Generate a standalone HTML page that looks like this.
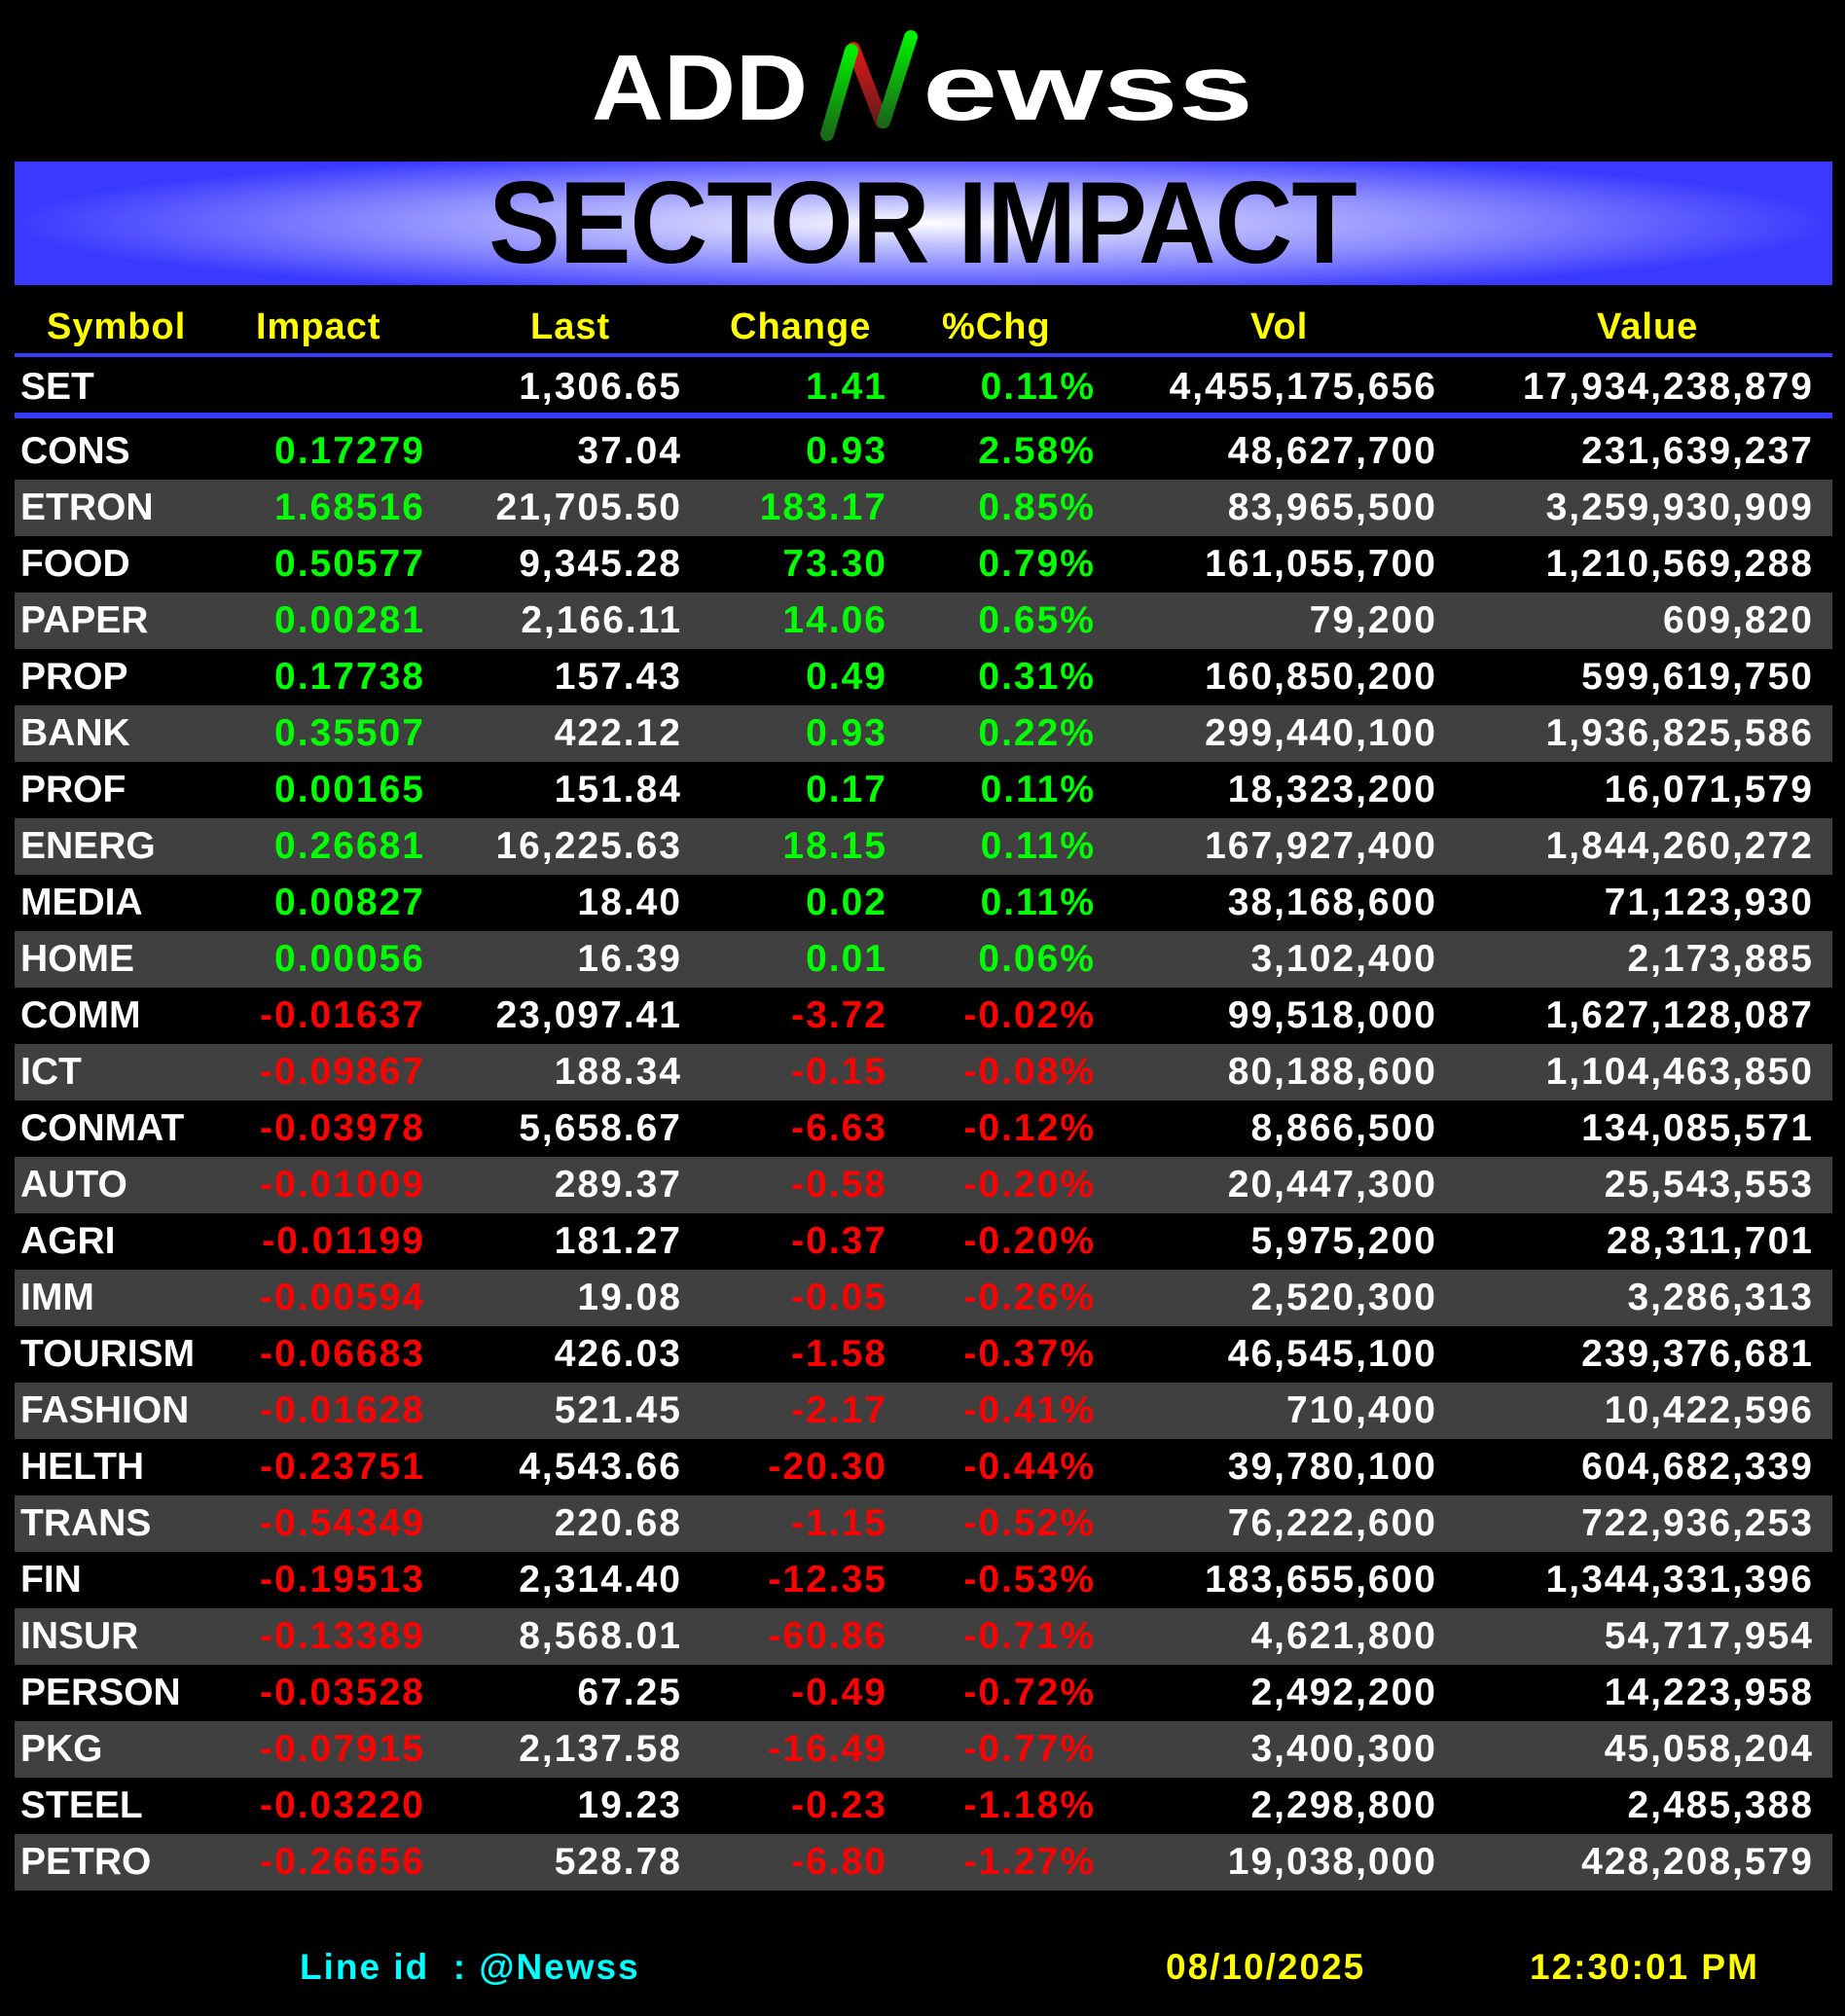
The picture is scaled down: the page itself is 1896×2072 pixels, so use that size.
<!DOCTYPE html>
<html><head><meta charset="utf-8"><style>
html,body{margin:0;padding:0;background:#000;}
body{width:1896px;height:2072px;position:relative;overflow:hidden;font-family:"Liberation Sans",sans-serif;font-weight:bold;}
.banner{position:absolute;left:15px;top:166px;width:1868px;height:127px;background:radial-gradient(ellipse 50% 60% at 50% 50%,#ffffff 0%,#c8c8ff 25%,#8a8aff 60%,#3a3aff 100%);}
.title{position:absolute;left:0;width:1896px;top:166px;height:127px;line-height:127px;text-align:center;font-size:120px;color:#000;transform:scaleX(0.92);letter-spacing:-1px;}
.hdr span,.row span{position:absolute;white-space:nowrap;}
.hdr{position:absolute;left:0;top:310px;width:1896px;height:52px;line-height:52px;color:#ffff00;font-size:38px;letter-spacing:1px;}
.line{position:absolute;left:15px;width:1868px;background:#3a3aff;}
.row{position:absolute;left:0;width:1896px;height:58px;line-height:58px;font-size:39px;color:#fff;letter-spacing:2px;}
.g{background:linear-gradient(to right,#000 0,#000 15px,#404040 15px,#404040 1883px,#000 1883px);}
.c1{left:21px;letter-spacing:0}.c2{right:1459px}.c3{right:1195px}.c4{right:984px}.c5{right:770px}.c6{right:419px}.c7{right:32px}
.p{color:#00ff00}.n{color:#ff0000}
.foot{position:absolute;top:1996px;height:52px;line-height:52px;font-size:37px;letter-spacing:2px;}
</style></head><body>
<svg style="position:absolute;left:0;top:0" width="1896" height="160">
<defs><linearGradient id="gr" x1="0" y1="0" x2="0" y2="1"><stop offset="0" stop-color="#00ee00"/><stop offset="1" stop-color="#1a6a1a"/></linearGradient>
<linearGradient id="rd" x1="0" y1="0" x2="0" y2="1"><stop offset="0" stop-color="#dd1a1a"/><stop offset="1" stop-color="#6a1a1a"/></linearGradient></defs>
<text x="608" y="123" font-family="Liberation Sans" font-weight="bold" font-size="96" fill="#fff" textLength="222" lengthAdjust="spacingAndGlyphs">ADD</text>
<text x="948" y="123" font-family="Liberation Sans" font-weight="bold" font-size="96" fill="#fff" textLength="340" lengthAdjust="spacingAndGlyphs">ewss</text>
<line x1="877" y1="50" x2="906" y2="125" stroke="url(#rd)" stroke-width="14" stroke-linecap="round"/>
<line x1="875" y1="52" x2="850" y2="138" stroke="url(#gr)" stroke-width="14" stroke-linecap="round"/>
<line x1="936" y1="38" x2="908" y2="125" stroke="url(#gr)" stroke-width="14" stroke-linecap="round"/>
</svg>
<div class="banner"></div>
<div class="title">SECTOR IMPACT</div>
<div class="hdr"><span style="left:48px">Symbol</span><span style="left:263px">Impact</span><span style="left:545px">Last</span><span style="left:750px">Change</span><span style="left:968px">%Chg</span><span style="left:1285px">Vol</span><span style="left:1641px">Value</span></div>
<div class="line" style="top:363px;height:4px"></div>
<div class="row" style="top:369px"><span class="c1">SET</span><span class="c3">1,306.65</span><span class="c4 p">1.41</span><span class="c5 p">0.11%</span><span class="c6">4,455,175,656</span><span class="c7">17,934,238,879</span></div>
<div class="line" style="top:424px;height:6px"></div>
<div class="row" style="top:435px"><span class="c1">CONS</span><span class="c2 p">0.17279</span><span class="c3">37.04</span><span class="c4 p">0.93</span><span class="c5 p">2.58%</span><span class="c6">48,627,700</span><span class="c7">231,639,237</span></div>
<div class="row g" style="top:493px"><span class="c1">ETRON</span><span class="c2 p">1.68516</span><span class="c3">21,705.50</span><span class="c4 p">183.17</span><span class="c5 p">0.85%</span><span class="c6">83,965,500</span><span class="c7">3,259,930,909</span></div>
<div class="row" style="top:551px"><span class="c1">FOOD</span><span class="c2 p">0.50577</span><span class="c3">9,345.28</span><span class="c4 p">73.30</span><span class="c5 p">0.79%</span><span class="c6">161,055,700</span><span class="c7">1,210,569,288</span></div>
<div class="row g" style="top:609px"><span class="c1">PAPER</span><span class="c2 p">0.00281</span><span class="c3">2,166.11</span><span class="c4 p">14.06</span><span class="c5 p">0.65%</span><span class="c6">79,200</span><span class="c7">609,820</span></div>
<div class="row" style="top:667px"><span class="c1">PROP</span><span class="c2 p">0.17738</span><span class="c3">157.43</span><span class="c4 p">0.49</span><span class="c5 p">0.31%</span><span class="c6">160,850,200</span><span class="c7">599,619,750</span></div>
<div class="row g" style="top:725px"><span class="c1">BANK</span><span class="c2 p">0.35507</span><span class="c3">422.12</span><span class="c4 p">0.93</span><span class="c5 p">0.22%</span><span class="c6">299,440,100</span><span class="c7">1,936,825,586</span></div>
<div class="row" style="top:783px"><span class="c1">PROF</span><span class="c2 p">0.00165</span><span class="c3">151.84</span><span class="c4 p">0.17</span><span class="c5 p">0.11%</span><span class="c6">18,323,200</span><span class="c7">16,071,579</span></div>
<div class="row g" style="top:841px"><span class="c1">ENERG</span><span class="c2 p">0.26681</span><span class="c3">16,225.63</span><span class="c4 p">18.15</span><span class="c5 p">0.11%</span><span class="c6">167,927,400</span><span class="c7">1,844,260,272</span></div>
<div class="row" style="top:899px"><span class="c1">MEDIA</span><span class="c2 p">0.00827</span><span class="c3">18.40</span><span class="c4 p">0.02</span><span class="c5 p">0.11%</span><span class="c6">38,168,600</span><span class="c7">71,123,930</span></div>
<div class="row g" style="top:957px"><span class="c1">HOME</span><span class="c2 p">0.00056</span><span class="c3">16.39</span><span class="c4 p">0.01</span><span class="c5 p">0.06%</span><span class="c6">3,102,400</span><span class="c7">2,173,885</span></div>
<div class="row" style="top:1015px"><span class="c1">COMM</span><span class="c2 n">-0.01637</span><span class="c3">23,097.41</span><span class="c4 n">-3.72</span><span class="c5 n">-0.02%</span><span class="c6">99,518,000</span><span class="c7">1,627,128,087</span></div>
<div class="row g" style="top:1073px"><span class="c1">ICT</span><span class="c2 n">-0.09867</span><span class="c3">188.34</span><span class="c4 n">-0.15</span><span class="c5 n">-0.08%</span><span class="c6">80,188,600</span><span class="c7">1,104,463,850</span></div>
<div class="row" style="top:1131px"><span class="c1">CONMAT</span><span class="c2 n">-0.03978</span><span class="c3">5,658.67</span><span class="c4 n">-6.63</span><span class="c5 n">-0.12%</span><span class="c6">8,866,500</span><span class="c7">134,085,571</span></div>
<div class="row g" style="top:1189px"><span class="c1">AUTO</span><span class="c2 n">-0.01009</span><span class="c3">289.37</span><span class="c4 n">-0.58</span><span class="c5 n">-0.20%</span><span class="c6">20,447,300</span><span class="c7">25,543,553</span></div>
<div class="row" style="top:1247px"><span class="c1">AGRI</span><span class="c2 n">-0.01199</span><span class="c3">181.27</span><span class="c4 n">-0.37</span><span class="c5 n">-0.20%</span><span class="c6">5,975,200</span><span class="c7">28,311,701</span></div>
<div class="row g" style="top:1305px"><span class="c1">IMM</span><span class="c2 n">-0.00594</span><span class="c3">19.08</span><span class="c4 n">-0.05</span><span class="c5 n">-0.26%</span><span class="c6">2,520,300</span><span class="c7">3,286,313</span></div>
<div class="row" style="top:1363px"><span class="c1">TOURISM</span><span class="c2 n">-0.06683</span><span class="c3">426.03</span><span class="c4 n">-1.58</span><span class="c5 n">-0.37%</span><span class="c6">46,545,100</span><span class="c7">239,376,681</span></div>
<div class="row g" style="top:1421px"><span class="c1">FASHION</span><span class="c2 n">-0.01628</span><span class="c3">521.45</span><span class="c4 n">-2.17</span><span class="c5 n">-0.41%</span><span class="c6">710,400</span><span class="c7">10,422,596</span></div>
<div class="row" style="top:1479px"><span class="c1">HELTH</span><span class="c2 n">-0.23751</span><span class="c3">4,543.66</span><span class="c4 n">-20.30</span><span class="c5 n">-0.44%</span><span class="c6">39,780,100</span><span class="c7">604,682,339</span></div>
<div class="row g" style="top:1537px"><span class="c1">TRANS</span><span class="c2 n">-0.54349</span><span class="c3">220.68</span><span class="c4 n">-1.15</span><span class="c5 n">-0.52%</span><span class="c6">76,222,600</span><span class="c7">722,936,253</span></div>
<div class="row" style="top:1595px"><span class="c1">FIN</span><span class="c2 n">-0.19513</span><span class="c3">2,314.40</span><span class="c4 n">-12.35</span><span class="c5 n">-0.53%</span><span class="c6">183,655,600</span><span class="c7">1,344,331,396</span></div>
<div class="row g" style="top:1653px"><span class="c1">INSUR</span><span class="c2 n">-0.13389</span><span class="c3">8,568.01</span><span class="c4 n">-60.86</span><span class="c5 n">-0.71%</span><span class="c6">4,621,800</span><span class="c7">54,717,954</span></div>
<div class="row" style="top:1711px"><span class="c1">PERSON</span><span class="c2 n">-0.03528</span><span class="c3">67.25</span><span class="c4 n">-0.49</span><span class="c5 n">-0.72%</span><span class="c6">2,492,200</span><span class="c7">14,223,958</span></div>
<div class="row g" style="top:1769px"><span class="c1">PKG</span><span class="c2 n">-0.07915</span><span class="c3">2,137.58</span><span class="c4 n">-16.49</span><span class="c5 n">-0.77%</span><span class="c6">3,400,300</span><span class="c7">45,058,204</span></div>
<div class="row" style="top:1827px"><span class="c1">STEEL</span><span class="c2 n">-0.03220</span><span class="c3">19.23</span><span class="c4 n">-0.23</span><span class="c5 n">-1.18%</span><span class="c6">2,298,800</span><span class="c7">2,485,388</span></div>
<div class="row g" style="top:1885px"><span class="c1">PETRO</span><span class="c2 n">-0.26656</span><span class="c3">528.78</span><span class="c4 n">-6.80</span><span class="c5 n">-1.27%</span><span class="c6">19,038,000</span><span class="c7">428,208,579</span></div>
<div class="foot" style="left:308px;color:#00ffff">Line id&nbsp; : @Newss</div>
<div class="foot" style="left:1198px;color:#ffff00">08/10/2025</div>
<div class="foot" style="left:1572px;color:#ffff00">12:30:01 PM</div>
</body></html>
